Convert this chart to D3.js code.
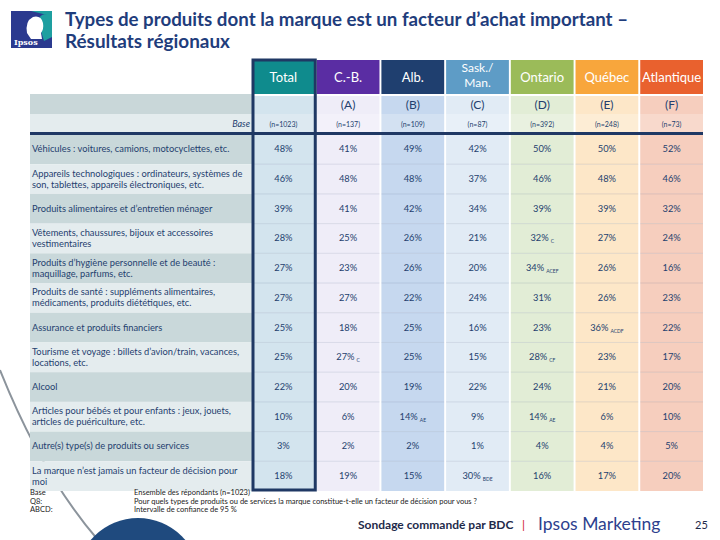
<!DOCTYPE html>
<html><head><meta charset="utf-8">
<script src="https://cdn.jsdelivr.net/npm/d3@7"></script>
<style>
html,body{margin:0;padding:0;background:#fff;}
svg{display:block;font-family:Lato,"Open Sans",sans-serif;}
</style></head>
<body>
<svg id="c" width="720" height="540"></svg>
<script>
// ---------- DATA ----------
const regions = ["Total", "C.-B.", "Alb.", "Sask./Man.", "Ontario", "Québec", "Atlantique"];
const letters = ["", "(A)", "(B)", "(C)", "(D)", "(E)", "(F)"];
const bases = ["(n=1023)", "(n=137)", "(n=109)", "(n=87)", "(n=392)", "(n=248)", "(n=73)"];
const categories = [
  "Véhicules : voitures, camions, motocyclettes, etc.",
  "Appareils technologiques : ordinateurs, systèmes de|son, tablettes, appareils électroniques, etc.",
  "Produits alimentaires et d’entretien ménager",
  "Vêtements, chaussures, bijoux et accessoires|vestimentaires",
  "Produits d’hygiène personnelle et de beauté :|maquillage, parfums, etc.",
  "Produits de santé : suppléments alimentaires,|médicaments, produits diététiques, etc.",
  "Assurance et produits financiers",
  "Tourisme et voyage : billets d’avion/train, vacances,|locations, etc.",
  "Alcool",
  "Articles pour bébés et pour enfants : jeux, jouets,|articles de puériculture, etc.",
  "Autre(s) type(s) de produits ou services",
  "La marque n’est jamais un facteur de décision pour|moi"
];
const totalValues = [48, 46, 39, 28, 27, 27, 25, 25, 22, 10, 3, 18];
const cbValues    = [41, 48, 41, 25, 23, 27, 18, 27, 20, 6, 2, 19];
const albValues   = [49, 48, 42, 26, 26, 22, 25, 25, 19, 14, 2, 15];
const saskValues  = [42, 37, 34, 21, 20, 24, 16, 15, 22, 9, 1, 30];
const ontValues   = [50, 46, 39, 32, 34, 31, 23, 28, 24, 14, 4, 16];
const qcValues    = [50, 48, 39, 27, 26, 26, 36, 23, 21, 6, 4, 17];
const atlValues   = [52, 46, 32, 24, 16, 23, 22, 17, 20, 10, 5, 20];
const totalSig = ["","","","","","","","","","","",""];
const cbSig    = ["","","","","","","","C","","","",""];
const albSig   = ["","","","","","","","","","AE","",""];
const saskSig  = ["","","","","","","","","","","","BDE"];
const ontSig   = ["","","","C","ACEF","","","CF","","AE","",""];
const qcSig    = ["","","","","","","ACDF","","","","",""];
const atlSig   = ["","","","","","","","","","","",""];
const footLabels = ["Base", "Q8:", "ABCD:"];
const footTexts = ["Ensemble des répondants (n=1023)",
  "Pour quels types de produits ou de services la marque constitue-t-elle un facteur de décision pour vous ?",
  "Intervalle de confiance de 95 %"];

const valueCols = [totalValues, cbValues, albValues, saskValues, ontValues, qcValues, atlValues];
const sigCols = [totalSig, cbSig, albSig, saskSig, ontSig, qcSig, atlSig];

// ---------- STYLE ----------
const headColors = ["#0f8b8d", "#5a2da3", "#1f3f6f", "#5e9cc6", "#9bbb59", "#f8a63c", "#e9612e"];
const cellColors = ["#d3e4ee", "#efedf8", "#c6d8ef", "#e1ebf5", "#e2edd6", "#fde7c8", "#f6cebe"];
const baseColors = ["#dde9f1", "#f3f1fa", "#d3e1f2", "#e8f0f8", "#e9f1e0", "#fdedd5", "#f8d9cc"];
const navy = "#1f3864";
const txt = "#243f6e";

const svg = d3.select("#c");

// decorative background
svg.append("path")
  .attr("d", "M0,370 Q42,475 98,540")
  .attr("fill", "none").attr("stroke", "#8c949c").attr("stroke-width", 2);
svg.append("circle").attr("cx", 138).attr("cy", 580).attr("r", 62).attr("fill", "#1f4a7e");

// logo
const logo = svg.append("g").attr("transform", "translate(11,11)");
logo.append("rect").attr("width", 41).attr("height", 37).attr("fill", "#2b3a8f");
logo.append("path").attr("d", "M20,0 L41,0 L41,26 L33,30 L30,20 Q26,14 28,8 Q30,2 36,4 Z").attr("fill", "#1e9fa0");
logo.append("path").attr("d", "M16,22 Q14,10 22,6 Q30,4 32,12 Q33,18 30,22 L31,28 L20,28 Z").attr("fill", "#ffffff");
logo.append("text").attr("x", 3).attr("y", 34).attr("fill", "#fff")
  .attr("font-family", "DejaVu Serif, serif").attr("font-weight", "bold").attr("font-size", 8).text("Ipsos");

// title
svg.append("text").attr("x", 65).attr("y", 26).attr("fill", "#1f3d7c").attr("font-weight", "bold")
  .attr("font-size", 18.5).attr("textLength", 563).attr("lengthAdjust", "spacingAndGlyphs")
  .text("Types de produits dont la marque est un facteur d’achat important –");
svg.append("text").attr("x", 65).attr("y", 48).attr("fill", "#1f3d7c").attr("font-weight", "bold")
  .attr("font-size", 18.5).attr("textLength", 165).attr("lengthAdjust", "spacingAndGlyphs")
  .text("Résultats régionaux");

// scales
const x = d3.scaleBand().domain(regions).range([252, 703]).paddingInner(0.03);
const y = d3.scaleBand().domain(d3.range(categories.length)).range([134.5, 491]);
const labelX0 = 30, labelX1 = 252;

// header
const hdr = svg.append("g");
regions.forEach((r, i) => {
  const cx = x(r) + x.bandwidth() / 2;
  hdr.append("rect").attr("x", x(r)).attr("y", 60).attr("width", x.bandwidth()).attr("height", 34).attr("fill", headColors[i]);
  const parts = r === "Sask./Man." ? ["Sask./", "Man."] : [r];
  parts.forEach((p, k) => {
    hdr.append("text").attr("x", cx).attr("y", parts.length === 1 ? 81.5 : 72 + k * 15)
      .attr("text-anchor", "middle").attr("fill", "#fff").attr("font-size", parts.length === 1 ? 13 : 12)
      .text(p);
  });
  hdr.append("rect").attr("x", x(r)).attr("y", 96).attr("width", x.bandwidth()).attr("height", 18).attr("fill", cellColors[i]);
  hdr.append("rect").attr("x", x(r)).attr("y", 114).attr("width", x.bandwidth()).attr("height", 19).attr("fill", baseColors[i]);
  hdr.append("text").attr("x", cx).attr("y", 109).attr("text-anchor", "middle").attr("fill", txt)
    .attr("font-size", 12).text(letters[i]);
  hdr.append("text").attr("x", cx).attr("y", 126.5).attr("text-anchor", "middle").attr("fill", txt)
    .attr("font-size", 7).text(bases[i]);
});
hdr.append("rect").attr("x", labelX0).attr("y", 94).attr("width", labelX1 - labelX0).attr("height", 20).attr("fill", "#c9d7d9");
hdr.append("rect").attr("x", labelX0).attr("y", 114).attr("width", labelX1 - labelX0).attr("height", 19).attr("fill", "#e4ecee");
hdr.append("text").attr("x", 250).attr("y", 127).attr("text-anchor", "end").attr("fill", txt)
  .attr("font-style", "italic").attr("font-size", 9).text("Base");

// rows
const body = svg.append("g");
categories.forEach((c, ri) => {
  const y0 = y(ri), h = y.bandwidth(), cy = y0 + h / 2;
  body.append("rect").attr("x", labelX0).attr("y", y0).attr("width", labelX1 - labelX0).attr("height", h)
    .attr("fill", ri % 2 === 0 ? "#c9d8da" : "#e4ecee");
  const lines = c.split("|");
  lines.forEach((l, k) => {
    const ly = lines.length === 1 ? cy + 3 : cy - 2.5 + k * 11;
    body.append("text").attr("x", 32).attr("y", ly).attr("fill", txt).attr("font-size", 9.3).text(l);
  });
  regions.forEach((r, ci) => {
    body.append("rect").attr("x", x(r)).attr("y", y0).attr("width", x.bandwidth()).attr("height", h)
      .attr("fill", cellColors[ci]);
    if (ri > 0) body.append("line").attr("x1", x(r)).attr("x2", x(r) + x.bandwidth()).attr("y1", y0).attr("y2", y0)
      .attr("stroke", "rgba(31,61,110,0.12)").attr("stroke-width", 1);
    const t = body.append("text").attr("x", x(r) + x.bandwidth() / 2).attr("y", cy + 3)
      .attr("text-anchor", "middle").attr("fill", txt).attr("font-size", 9.3);
    t.append("tspan").text(valueCols[ci][ri] + "%");
    const s = sigCols[ci][ri];
    if (s) t.append("tspan").attr("dx", 2).attr("dy", 2).attr("font-size", 5).text(s);
  });
});

// dark rules
svg.append("rect").attr("x", labelX0).attr("y", 132).attr("width", 703 - labelX0).attr("height", 3).attr("fill", navy);
svg.append("rect").attr("x", x("Total") + 1).attr("y", 60).attr("width", x.bandwidth() - 0.5).attr("height", 430)
  .attr("fill", "none").attr("stroke", navy).attr("stroke-width", 3);

// footnotes
footLabels.forEach((f, i) => {
  svg.append("text").attr("x", 30).attr("y", 495 + i * 8.5).attr("fill", "#222").attr("font-size", 7.5).text(f);
  svg.append("text").attr("x", 134).attr("y", 495 + i * 8.5).attr("fill", "#222").attr("font-size", 7.5).text(footTexts[i]);
});

// bottom
svg.append("text").attr("x", 358).attr("y", 529).attr("fill", "#1e2a4a").attr("font-weight", "bold")
  .attr("font-size", 12).text("Sondage commandé par BDC");
svg.append("text").attr("x", 522).attr("y", 529).attr("fill", "#d0202e").attr("font-size", 12).text("|");
svg.append("text").attr("x", 538).attr("y", 530).attr("fill", "#2d3f8e")
  .attr("font-size", 17.5).text("Ipsos Marketing");
svg.append("text").attr("x", 695).attr("y", 529).attr("fill", "#1e2a4a").attr("font-size", 11).text("25");
</script>
</body></html>
